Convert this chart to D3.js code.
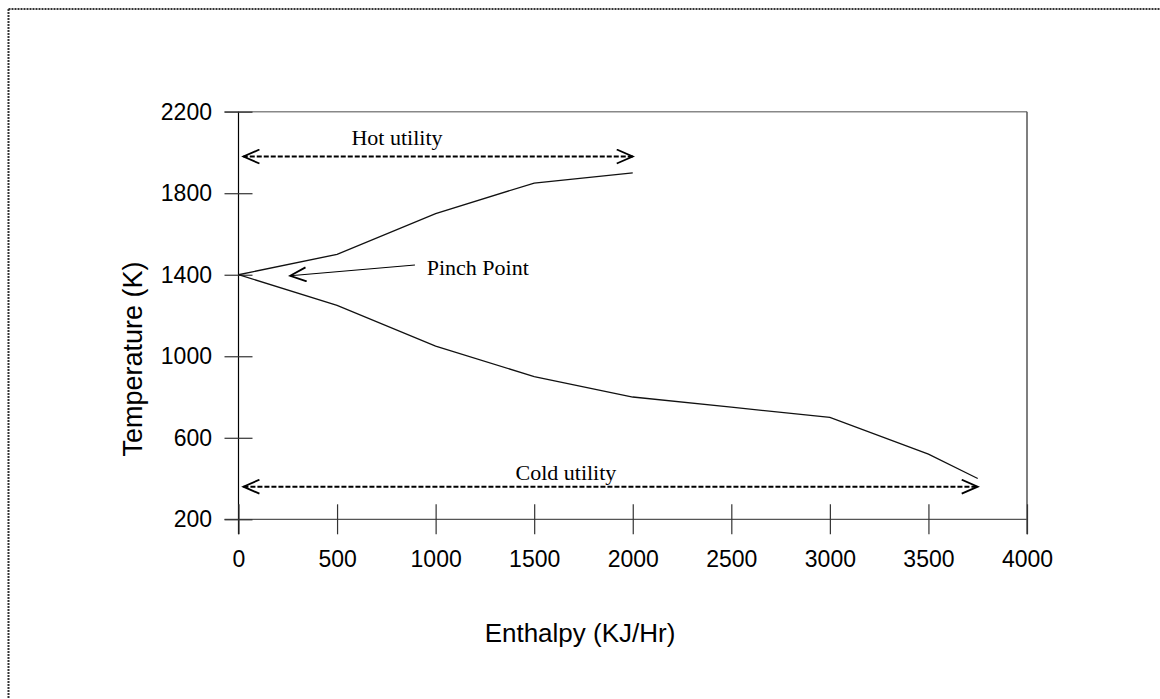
<!doctype html>
<html lang="en">
<head>
    <meta charset="utf-8"/>
    <title>Enthalpy vs Temperature</title>
    <style>
        body { margin: 0; background: #fff; }
        svg { display: block; }
    </style>
</head>
<body>
    <svg id="chart"></svg>
    <script src="https://d3js.org/d3.v7.min.js"></script>
    <script>
        // composite curves
        const hotEnthalpy = [0, 500, 1000, 1500, 2000];
        const hotTemp = [1400, 1500, 1700, 1850, 1900];
        const coldEnthalpy = [0, 500, 1000, 1500, 2000, 2500, 3000, 3500, 3750];
        const coldTemp = [1400, 1250, 1050, 900, 800, 750, 700, 520, 400];

        // axis ticks
        const xTicks = [0, 500, 1000, 1500, 2000, 2500, 3000, 3500, 4000];
        const yTicks = [200, 600, 1000, 1400, 1800, 2200];

        // annotation arrows [x0, y0, x1, y1] and labels [text, x, y, anchor]
        const hotUtility = [2000, 1980, 25, 1980];
        const coldUtility = [25, 360, 3750, 360];
        const pinchArrow = [895, 1448, 262, 1395];
        const labels = [
            ["Hot utility", 804, 2035, "middle"],
            ["Pinch Point", 955, 1399, "start"],
            ["Cold utility", 1661, 393, "middle"]
        ];

        const W = 1160, H = 699;
        const svg = d3.select("#chart")
            .attr("width", W)
            .attr("height", H);

        // dotted page frame (top and left only visible)
        svg.append("line")
            .attr("x1", 8.5).attr("x2", W).attr("y1", 9).attr("y2", 9)
            .attr("stroke", "#333").attr("stroke-width", 2)
            .attr("stroke-dasharray", "2,1");
        svg.append("line")
            .attr("x1", 8.5).attr("x2", 8.5).attr("y1", 9).attr("y2", H)
            .attr("stroke", "#333").attr("stroke-width", 2)
            .attr("stroke-dasharray", "2,1");

        const x = d3.scaleLinear().domain([0, 4000]).range([238.5, 1027]);
        const y = d3.scaleLinear().domain([200, 2200]).range([519.3, 111.7]);

        // frame lines
        const frame = svg.append("g").attr("fill", "none");
        frame.append("line")
            .attr("x1", x(0) - 14).attr("x2", x(4000))
            .attr("y1", y(2200)).attr("y2", y(2200))
            .attr("stroke", "#888").attr("stroke-width", 1.5);
        frame.append("line")
            .attr("x1", x(4000)).attr("x2", x(4000))
            .attr("y1", y(2200)).attr("y2", y(200) + 15)
            .attr("stroke", "#555").attr("stroke-width", 1.5);
        frame.append("line")
            .attr("x1", x(0) - 14).attr("x2", x(4000))
            .attr("y1", y(200)).attr("y2", y(200))
            .attr("stroke", "#555").attr("stroke-width", 1.2);
        frame.append("line")
            .attr("x1", x(0)).attr("x2", x(0))
            .attr("y1", y(2200)).attr("y2", y(200) + 15)
            .attr("stroke", "#000").attr("stroke-width", 1.2);

        const fmt = d3.format("d");

        // y axis
        const yAxis = svg.append("g")
            .attr("transform", `translate(${x(0)},0)`)
            .call(d3.axisLeft(y).tickValues(yTicks).tickFormat(fmt).tickSize(14).tickPadding(12.5))
            .attr("font-family", "'Liberation Sans', Arial, sans-serif")
            .attr("font-size", 23);
        yAxis.select(".domain").remove();
        yAxis.selectAll(".tick line").attr("x1", 14).attr("stroke", "#333").attr("stroke-width", 1.2);
        yAxis.selectAll(".tick text").attr("fill", "#000");

        // x axis
        const xAxis = svg.append("g")
            .attr("transform", `translate(0,${y(200)})`)
            .call(d3.axisBottom(x).tickValues(xTicks).tickFormat(fmt).tickSize(15).tickPadding(16))
            .attr("font-family", "'Liberation Sans', Arial, sans-serif")
            .attr("font-size", 23);
        xAxis.select(".domain").remove();
        xAxis.selectAll(".tick line").attr("y1", -15).attr("stroke", "#333").attr("stroke-width", 1.2);
        xAxis.selectAll(".tick text").attr("fill", "#000");

        // axis titles
        svg.append("text")
            .attr("x", 580).attr("y", 642)
            .attr("text-anchor", "middle")
            .attr("font-family", "'Liberation Sans', Arial, sans-serif")
            .attr("font-size", 26)
            .text("Enthalpy (KJ/Hr)");
        svg.append("text")
            .attr("transform", "translate(142,359) rotate(-90)")
            .attr("text-anchor", "middle")
            .attr("font-family", "'Liberation Sans', Arial, sans-serif")
            .attr("font-size", 27)
            .text("Temperature (K)");

        // curves
        const line = d3.line().x(d => x(d[0])).y(d => y(d[1]));
        const hot = d3.zip(hotEnthalpy, hotTemp);
        const cold = d3.zip(coldEnthalpy, coldTemp);
        svg.append("g")
            .attr("fill", "none")
            .attr("stroke", "#111")
            .attr("stroke-width", 1.3)
            .selectAll("path")
            .data([hot, cold])
            .join("path")
            .attr("d", line);

        // open chevron arrowheads
        const defs = svg.append("defs");
        defs.append("marker")
            .attr("id", "chev")
            .attr("markerUnits", "userSpaceOnUse")
            .attr("viewBox", "-17 -8 19 16")
            .attr("markerWidth", 19).attr("markerHeight", 16)
            .attr("refX", 0).attr("refY", 0)
            .attr("orient", "auto")
            .append("path")
            .attr("d", "M-16,-7L0,0L-16,7")
            .attr("fill", "none")
            .attr("stroke", "#000")
            .attr("stroke-width", 1.8);
        defs.append("marker")
            .attr("id", "chevStart")
            .attr("markerUnits", "userSpaceOnUse")
            .attr("viewBox", "-2 -8 19 16")
            .attr("markerWidth", 19).attr("markerHeight", 16)
            .attr("refX", 0).attr("refY", 0)
            .attr("orient", "auto")
            .append("path")
            .attr("d", "M16,-7L0,0L16,7")
            .attr("fill", "none")
            .attr("stroke", "#000")
            .attr("stroke-width", 1.8);

        const arrows = svg.append("g").attr("fill", "none").attr("stroke", "#000");
        [hotUtility, coldUtility].forEach(a => {
            arrows.append("line")
                .attr("x1", x(a[0])).attr("y1", y(a[1]))
                .attr("x2", x(a[2])).attr("y2", y(a[3]))
                .attr("stroke-width", 2)
                .attr("stroke-dasharray", "5,2")
                .attr("marker-start", "url(#chevStart)")
                .attr("marker-end", "url(#chev)");
        });

        arrows.append("line")
            .attr("x1", x(pinchArrow[0])).attr("y1", y(pinchArrow[1]))
            .attr("x2", x(pinchArrow[2])).attr("y2", y(pinchArrow[3]))
            .attr("stroke-width", 1.1)
            .attr("marker-end", "url(#chev)");

        // text annotations
        svg.append("g")
            .attr("font-family", "'Liberation Serif', 'Times New Roman', serif")
            .attr("font-size", 22)
            .selectAll("text")
            .data(labels)
            .join("text")
            .attr("x", d => x(d[1]))
            .attr("y", d => y(d[2]))
            .attr("text-anchor", d => d[3])
            .text(d => d[0]);
    </script>
</body>
</html>
